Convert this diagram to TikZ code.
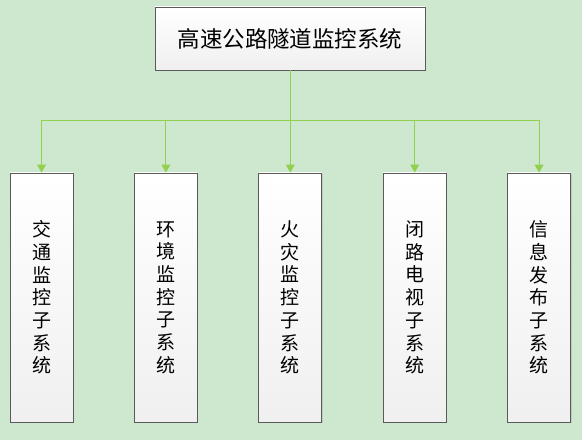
\documentclass[tikz,border=0pt]{standalone}
\usepackage{fontspec}
\usepackage{xcolor}
\usepackage{tikz}
\usetikzlibrary{arrows.meta,positioning,shadows}
\newfontfamily\cjk{Noto Sans CJK SC}
\definecolor{tnbg}{HTML}{CDE8CF}
\definecolor{tngreen}{HTML}{92D050}
\definecolor{tnedge}{HTML}{5A5A5A}
\tikzset{
  flowarrow/.style={-{Triangle[length=8pt,width=9pt]}, line width=1pt, draw=tngreen},
  topbox/.style={draw=tnedge, line width=0.9pt, top color=white, bottom color=black!6,
    minimum width=270pt, minimum height=63pt, inner sep=0pt,
    drop shadow={shadow xshift=1pt, shadow yshift=-1pt, opacity=0.25},
    font=\cjk\fontsize{22.5}{25}\selectfont},
  subbox/.style={draw=tnedge, line width=0.9pt, top color=white, bottom color=black!6,
    minimum width=63pt, minimum height=249pt, inner sep=0pt, align=center,
    drop shadow={shadow xshift=1pt, shadow yshift=-1pt, opacity=0.25},
    font=\cjk\fontsize{19}{22.7}\selectfont}
}
\begin{document}
\begin{tikzpicture}[x=1pt, y=1pt, node distance=60.5pt]
  \fill[tnbg] (0,0) rectangle (582,440);
  \useasboundingbox (0,0) rectangle (582,440);

  \node[topbox] (hwy) at (290,401.5) {高速公路隧道监控系统};
  \coordinate (bus) at (290,319);

  \node[subbox] (traffic) at (41.5,142.5) {交\\通\\监\\控\\子\\系\\统};
  \node[subbox, right=of traffic] (envir) {环\\境\\监\\控\\子\\系\\统};
  \node[subbox, right=of envir] (fire) {火\\灾\\监\\控\\子\\系\\统};
  \node[subbox, right=of fire] (cctv) {闭\\路\\电\\视\\子\\系\\统};
  \node[subbox, right=of cctv] (info) {信\\息\\发\\布\\子\\系\\统};

  \foreach \sys in {traffic,envir,fire,cctv,info}
    \draw[flowarrow] (hwy.south) -- (bus) -| (\sys.north);
\end{tikzpicture}
\end{document}
